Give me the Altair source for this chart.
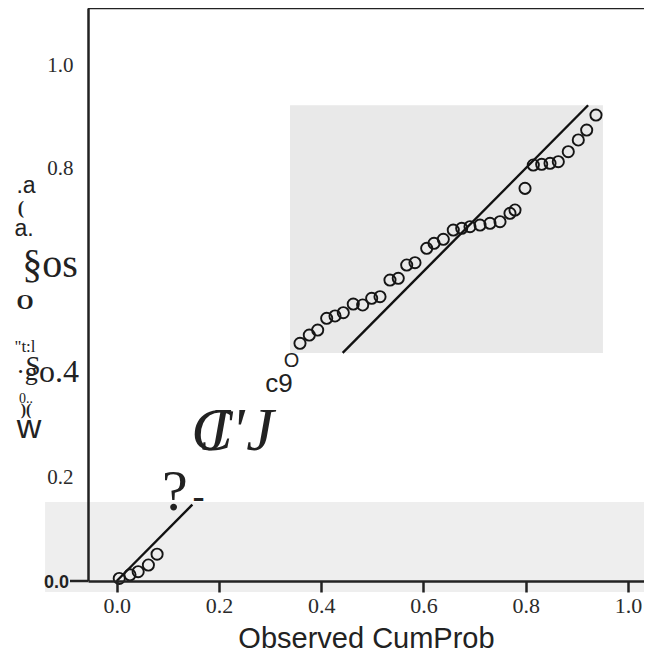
import altair as alt
import pandas as pd

# ---- data ----
obs_low = [0.005, 0.026, 0.042, 0.062, 0.079]
exp_low = [0.005, 0.012, 0.018, 0.031, 0.052]

obs_mid = [0.3585, 0.3767, 0.3931, 0.4107, 0.4270, 0.4432, 0.4627, 0.4811, 0.4987, 0.5150,
           0.5345, 0.5507, 0.5672, 0.5834, 0.6063, 0.6206, 0.6388, 0.6583, 0.6748, 0.6910,
           0.7106, 0.7301, 0.7497, 0.7692, 0.7790, 0.7986, 0.8148, 0.8312, 0.8475, 0.8637,
           0.8832, 0.9028, 0.9192, 0.9374]
exp_mid = [0.4607, 0.4767, 0.4864, 0.5091, 0.5136, 0.5200, 0.5368, 0.5349, 0.5479, 0.5510,
           0.5833, 0.5866, 0.6124, 0.6169, 0.6448, 0.6545, 0.6622, 0.6802, 0.6835, 0.6866,
           0.6899, 0.6932, 0.6963, 0.7126, 0.7190, 0.7610, 0.8062, 0.8076, 0.8095, 0.8126,
           0.8320, 0.8547, 0.8740, 0.9031]

# visible pieces of the y = x reference line
ref_x = [0.0, 0.148, 0.442, 0.922]
ref_y = [0.0, 0.148, 0.442, 0.922]
ref_seg = ["a", "a", "b", "b"]

x_ticks = [0.0, 0.2, 0.4, 0.6, 0.8, 1.0]
y_ticks = [0.2, 0.8, 1.0]

X_DOM = [-0.0561, 1.0313]
Y_DOM = [0.0, 1.1105]

# scan patches (grey background areas)
patch_x = [0.339, -0.140]
patch_x2 = [0.951, 1.0313]
patch_y = [0.442, -0.0213]
patch_y2 = [0.922, 0.153]
patch_c = ["#e9e9e9", "#eeeeee"]

# scanned / OCR text fragments
annotations = [
    # text, x, y, font, size, weight, style
    (".a", -0.1774, 0.7519, "Liberation Sans", 23, "normal", "normal"),
    ("(", -0.1872, 0.7112, "Liberation Serif", 19, "bold", "normal"),
    ("a.", -0.1813, 0.6686, "Liberation Sans", 23, "normal", "normal"),
    ("§os", -0.1304, 0.5891, "Liberation Serif", 40, "normal", "normal"),
    ("O", -0.1793, 0.5271, "Liberation Serif", 22, "bold", "normal"),
    ("\"t:l", -0.1793, 0.4438, "Liberation Serif", 17, "normal", "normal"),
    ("S", -0.1636, 0.3992, "Liberation Serif", 27, "normal", "normal"),
    ("·g", -0.1754, 0.3895, "Liberation Serif", 26, "normal", "normal"),
    ("o.4", -0.1130, 0.3857, "Liberation Serif", 32, "normal", "normal"),
    ("0..", -0.1774, 0.3450, "Liberation Serif", 14, "normal", "normal"),
    (")(", -0.1774, 0.3217, "Liberation Serif", 16, "bold", "normal"),
    ("w", -0.1715, 0.2771, "Liberation Sans", 34, "normal", "normal"),
    ("0.0", -0.1177, -0.0136, "Liberation Sans", 18, "bold", "normal"),
    ("C", 0.1864, 0.2539, "Liberation Serif", 62, "normal", "italic"),
    ("J", 0.1922, 0.2539, "Liberation Serif", 62, "normal", "italic"),
    ("'", 0.2372, 0.2539, "Liberation Serif", 62, "normal", "italic"),
    ("J", 0.2803, 0.2539, "Liberation Serif", 62, "normal", "italic"),
    ("c9", 0.3174, 0.3663, "Liberation Sans", 26, "normal", "normal"),
    ("O", 0.3419, 0.4147, "Liberation Sans", 20, "normal", "normal"),
    ("?", 0.1140, 0.1380, "Liberation Serif", 58, "normal", "normal"),
    ("-", 0.1600, 0.1370, "Liberation Sans", 38, "normal", "normal"),
]

# dash joining the "0.0" label to the axis
dash_x = [-0.0913]
dash_x2 = [-0.0561]
dash_y = [0.0]

xs = alt.Scale(domain=X_DOM, nice=False, zero=False)
ys = alt.Scale(domain=Y_DOM, nice=False, zero=False)

xaxis = alt.Axis(values=x_ticks, format=".1f", title="Observed CumProb",
                 labelFont="Liberation Serif", labelFontSize=22, labelColor="#2b2b2b",
                 labelPadding=3, labelFlush=False,
                 tickSize=11, tickWidth=2.5, tickColor="#222222",
                 domainColor="#222222", domainWidth=2.5, grid=False,
                 titleFont="Liberation Sans", titleFontSize=29, titleFontWeight="normal",
                 titleColor="#222222", titleBaseline="alphabetic", titleY=66, zindex=1)
yaxis = alt.Axis(values=y_ticks, format=".1f", title=None, ticks=False,
                 labelFont="Liberation Serif", labelFontSize=21, labelColor="#2b2b2b",
                 labelPadding=15, domainColor="#222222", domainWidth=2.5, grid=False, zindex=1)

X = lambda f: alt.X(f, type="quantitative", scale=xs, axis=xaxis)
Y = lambda f: alt.Y(f, type="quantitative", scale=ys, axis=yaxis)

patches_df = pd.DataFrame({"x": patch_x, "x2": patch_x2, "y": patch_y, "y2": patch_y2, "c": patch_c})
patches = alt.Chart(patches_df).mark_rect(clip=False).encode(
    x=X("x"), x2="x2", y=Y("y"), y2="y2",
    color=alt.Color("c:N", scale=None))

ref_df = pd.DataFrame({"x": ref_x, "y": ref_y, "seg": ref_seg})
ref_line = alt.Chart(ref_df).mark_line(color="#111111", strokeWidth=2.4, clip=False).encode(
    x=X("x"), y=Y("y"), detail="seg:N")

pts_df = pd.DataFrame({"x": obs_low + obs_mid, "y": exp_low + exp_mid})
points = alt.Chart(pts_df).mark_point(shape="circle", filled=False, size=125,
                                      stroke="#151515", strokeWidth=1.9, opacity=1).encode(
    x=X("x"), y=Y("y"))

top_df = pd.DataFrame({"x": [X_DOM[0]], "x2": [X_DOM[1]], "y": [Y_DOM[1]]})
top_rule = alt.Chart(top_df).mark_rule(color="#222222", strokeWidth=2.5, clip=False).encode(
    x=X("x"), x2="x2", y=Y("y"))

dash_df = pd.DataFrame({"x": dash_x, "x2": dash_x2, "y": dash_y})
dash_rule = alt.Chart(dash_df).mark_rule(color="#222222", strokeWidth=2.5, clip=False).encode(
    x=X("x"), x2="x2", y=Y("y"))

layers = [patches, ref_line, points, top_rule, dash_rule]
for t, ax, ay, font, size, weight, style in annotations:
    df = pd.DataFrame({"x": [ax], "y": [ay], "t": [t]})
    layers.append(
        alt.Chart(df).mark_text(font=font, fontSize=size, fontWeight=weight, fontStyle=style,
                                align="center", baseline="alphabetic", color="#222222",
                                clip=False).encode(x=X("x"), y=Y("y"), text="t:N"))

chart = alt.layer(*layers).properties(
    width=556, height=573,
    autosize=alt.AutoSizeParams(type="none"),
    padding={"left": 80, "top": 0, "right": 0, "bottom": 72},
    background="white",
).configure_view(strokeWidth=0)

chart.save("out.html", embed_options={"renderer": "svg", "actions": False})
